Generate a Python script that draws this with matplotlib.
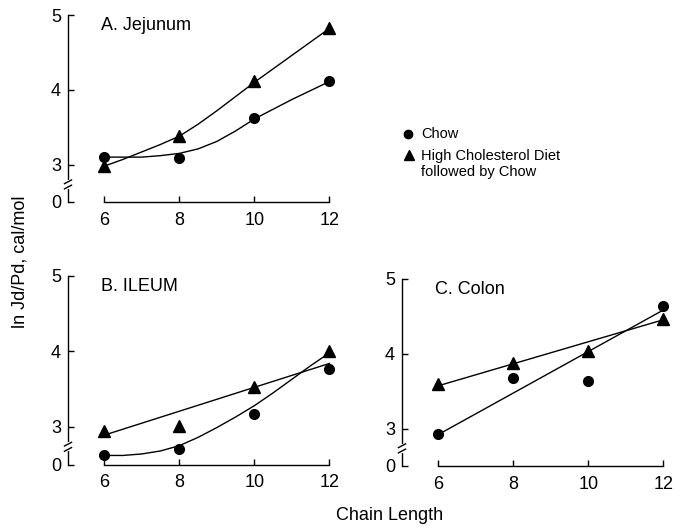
import matplotlib
matplotlib.use('Agg')
import matplotlib.pyplot as plt
from matplotlib.lines import Line2D
from matplotlib.transforms import blended_transform_factory

plt.rcParams['font.family'] = ['Liberation Sans', 'DejaVu Sans']

# 鎖長
chain = [6, 8, 10, 12]

# 測定点 (ln Jd/Pd)
jej_chow = [3.10, 3.09, 3.62, 4.12]
jej_hcd = [2.98, 3.38, 4.12, 4.82]
ile_chow = [2.63, 2.70, 3.17, 3.76]
ile_hcd = [2.94, 3.01, 3.53, 4.00]
col_chow = [2.93, 3.68, 3.63, 4.64]
col_hcd = [3.59, 3.88, 4.04, 4.46]

# 図から読み取った近似曲線
curve_x = [6, 6.5, 7, 7.5, 8, 8.5, 9, 9.5, 10, 10.5, 11, 11.5, 12]
jej_chow_fit = [3.10, 3.10, 3.10, 3.12, 3.15, 3.21, 3.31, 3.45, 3.61, 3.74, 3.87, 3.99, 4.11]
jej_hcd_fit = [2.98, 3.07, 3.17, 3.27, 3.38, 3.54, 3.72, 3.91, 4.10, 4.28, 4.46, 4.64, 4.82]
ile_chow_fit = [2.62, 2.62, 2.64, 2.68, 2.75, 2.86, 2.99, 3.13, 3.28, 3.45, 3.63, 3.81, 3.98]

line_x = [6, 12]
ile_hcd_fit = [2.89, 3.84]
col_chow_fit = [2.92, 4.58]
col_hcd_fit = [3.57, 4.45]

y_ticks = [2.5, 3, 4, 5]
y_labels = ['0', '3', '4', '5']

TICK_FS = 13
W, H = 689, 531


def setup_axes(ax, title):
    """軸の体裁（破断記号付き）"""
    ax.set_xlim(5.03, 12.3)
    ax.set_ylim(2.5, 5.0)
    for s in ['top', 'right']:
        ax.spines[s].set_visible(False)
    ax.spines['left'].set_bounds(2.5, 5.0)
    ax.spines['bottom'].set_bounds(6, 12)
    for s in ['left', 'bottom']:
        ax.spines[s].set_linewidth(1.0)
    ax.set_xticks(chain)
    ax.set_yticks(y_ticks)
    ax.set_yticklabels(y_labels)
    ax.tick_params(direction='in', length=4, width=1.0, labelsize=TICK_FS)
    ax.tick_params(axis='x', pad=7)
    ax.tick_params(axis='y', pad=5)
    ax.text(6 - 0.08, 4.86, title, fontsize=TICK_FS, ha='left', va='center')

    # y軸の破断
    tr = blended_transform_factory(ax.transAxes, ax.transData)
    ax.plot([0, 0], [2.70, 2.77], color='white', lw=3, transform=tr,
            clip_on=False, zorder=5)
    for y in (2.70, 2.77):
        ax.plot([-0.013, 0.013], [y - 0.025, y + 0.025], color='black', lw=1.0,
                transform=tr, clip_on=False, zorder=6)


def draw(ax, chow, hcd):
    ax.plot(chain, chow, 'o', color='black', markersize=7, clip_on=False, zorder=4)
    ax.plot(chain, hcd, '^', color='black', markersize=8, clip_on=False, zorder=4)


fig = plt.figure(figsize=(W / 100, H / 100), dpi=100)

ax_a = fig.add_axes([68 / W, 1 - 202 / H, 272.6 / W, 187 / H])
ax_b = fig.add_axes([68 / W, 1 - 464.5 / H, 272.6 / W, 188.5 / H])
ax_c = fig.add_axes([402 / W, 1 - 466 / H, 272.6 / W, 187.5 / H])

# A. 空腸
setup_axes(ax_a, 'A. Jejunum')
ax_a.plot(curve_x, jej_chow_fit, color='black', lw=1.0)
ax_a.plot(curve_x, jej_hcd_fit, color='black', lw=1.0)
draw(ax_a, jej_chow, jej_hcd)

# B. 回腸
setup_axes(ax_b, 'B. ILEUM')
ax_b.plot(curve_x, ile_chow_fit, color='black', lw=1.0)
ax_b.plot(line_x, ile_hcd_fit, color='black', lw=1.0)
draw(ax_b, ile_chow, ile_hcd)

# C. 結腸
setup_axes(ax_c, 'C. Colon')
ax_c.plot(line_x, col_chow_fit, color='black', lw=1.0)
ax_c.plot(line_x, col_hcd_fit, color='black', lw=1.0)
draw(ax_c, col_chow, col_hcd)

# 凡例（手書き配置）
fig.add_artist(Line2D([408 / W], [1 - 134 / H], marker='o', color='black',
                      markersize=6, linestyle='none'))
fig.add_artist(Line2D([409 / W], [1 - 155 / H], marker='^', color='black',
                      markersize=7, linestyle='none'))
fig.text(421 / W, 1 - 134 / H, 'Chow', fontsize=10.5, va='center', ha='left')
fig.text(421 / W, 1 - 149 / H, 'High Cholesterol Diet\nfollowed by Chow',
         fontsize=10.5, va='top', ha='left', linespacing=1.15)

# 軸ラベル
fig.text(20 / W, 1 - 262 / H, 'ln Jd/Pd, cal/mol', fontsize=TICK_FS,
         rotation=90, ha='center', va='center')
fig.text(390 / W, 1 - 515 / H, 'Chain Length', fontsize=TICK_FS,
         ha='center', va='center')

plt.savefig('out.png', dpi=100, facecolor='white')
plt.close()
